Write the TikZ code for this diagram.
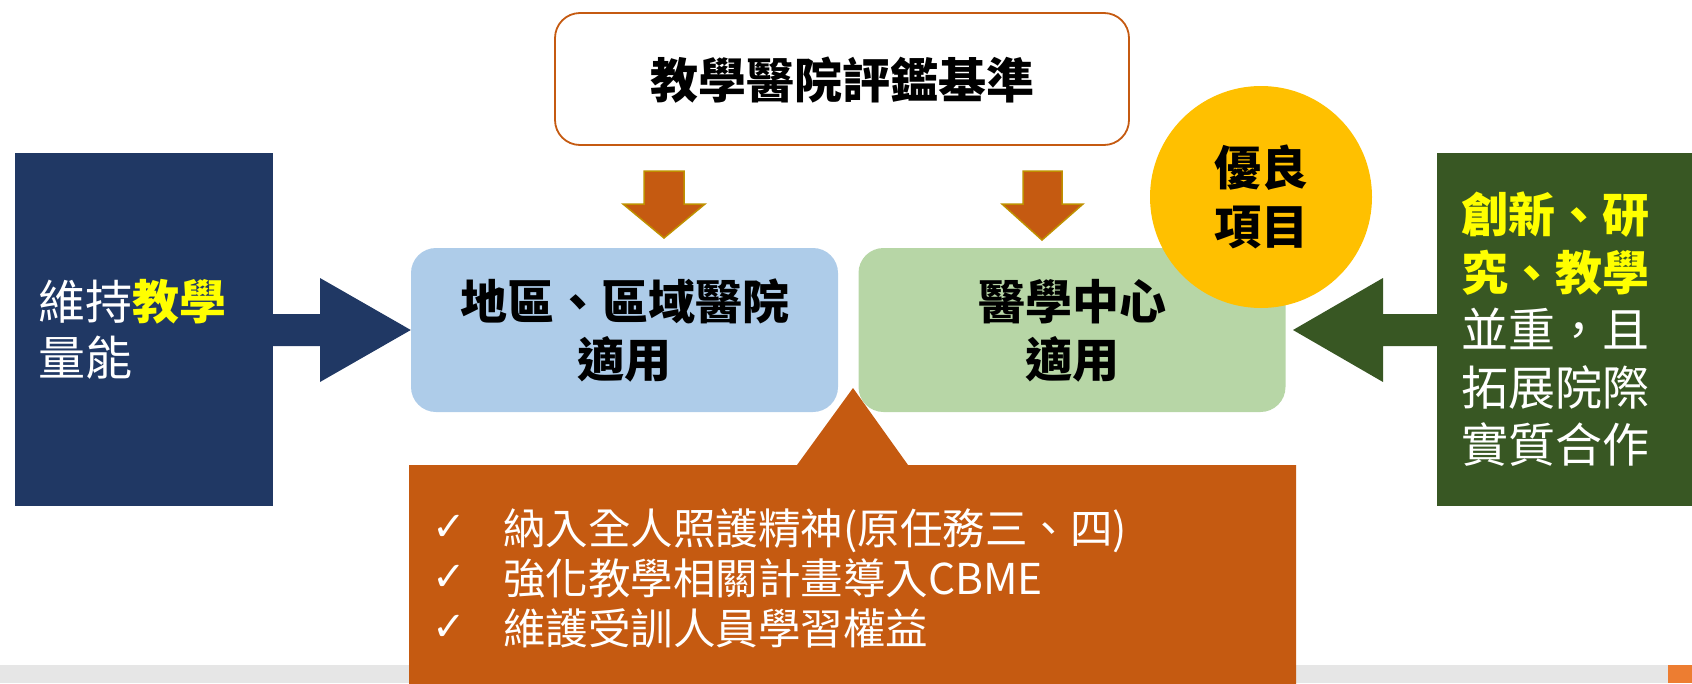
\documentclass[tikz,border=0pt]{standalone}
\usepackage{fontspec}
\newfontfamily\cjk{Noto Sans CJK TC}
\newfontfamily\dejavu{DejaVu Sans}
\definecolor{navy}{HTML}{203864}
\definecolor{forest}{HTML}{385723}
\definecolor{rust}{HTML}{C55A11}
\definecolor{lblue}{HTML}{AECCE9}
\definecolor{lgreen}{HTML}{B7D6A6}
\definecolor{gold}{HTML}{FFC000}
\definecolor{ylw}{HTML}{FFFF00}
\definecolor{olive}{HTML}{BF9000}
\definecolor{barg}{HTML}{E6E6E6}
\definecolor{acc}{HTML}{ED7D31}
\begin{document}
\begin{tikzpicture}[x=1pt,y=-1pt,
  f47/.style={inner sep=0pt, font=\cjk\fontsize{47}{56}\selectfont, text height=41.4pt, text depth=5.6pt},
  f47b/.style={inner sep=0pt, font=\cjk\bfseries\fontsize{47}{56}\selectfont, text height=41.4pt, text depth=5.6pt},
  f48b/.style={inner sep=0pt, font=\cjk\bfseries\fontsize{48}{56}\selectfont, text height=42.2pt, text depth=5.8pt},
  f42/.style={inner sep=0pt, font=\cjk\fontsize{42.5}{50}\selectfont, text height=37.4pt, text depth=5.1pt},
  chk/.style={font=\dejavu\fontsize{40}{48}\selectfont, text=white, inner sep=0pt},
  rbox/.style={minimum width=427pt, minimum height=164pt, rounded corners=25pt, inner sep=0pt},
  blockdown/.style={fill=rust, draw=olive, line width=1.5pt, line join=miter}
]
\useasboundingbox (0,0) rectangle (1692,683);
\clip (0,0) rectangle (1692,683);

% bottom bar
\fill[barg] (0,665) rectangle (1668,683);
\fill[acc] (1668,665) rectangle (1692,683);

% side boxes
\node[fill=navy, minimum width=258pt, minimum height=353pt, inner sep=0pt] (lbox) at (144,329.5) {};
\node[fill=forest, minimum width=270pt, minimum height=353pt, inner sep=0pt] (rbx) at (1572,329.5) {};

% central boxes
\node[rbox, fill=lblue] (blue) at (624.5,330) {};
\node[rbox, fill=lgreen] (green) at (1072,330) {};
\node[circle, fill=gold, minimum size=222pt, inner sep=0pt] (star) at (1261,197) {};

% side block arrows
\fill[navy] (lbox.east |- 0,314) -- (320,314) -- (320,278) -- (blue.west) -- (320,382) -- (320,346) -- (lbox.east |- 0,346) -- cycle;
\coordinate (rtip) at (1293,330);
\fill[forest] (rbx.west |- 0,314) -- (1383,314) -- (1383,278) -- (rtip) -- (1383,382) -- (1383,346) -- (rbx.west |- 0,346) -- cycle;

% bottom orange box with triangle
\coordinate (apex) at (853,388);
\fill[rust] (409,465) -- (797,465) -- (apex) -- (908,465) -- (1296,465) -- (1296,690) -- (409,690) -- cycle;

% top box
\node[draw=rust, line width=1.8pt, fill=white, rounded corners=25pt, minimum width=574pt, minimum height=132pt, inner sep=0pt] (top) at (842,79) {};

% down block arrows
\draw[blockdown] (644,171) -- (684,171) -- (684,204) -- (705,204) -- (664,238) -- (623,204) -- (644,204) -- cycle;
\draw[blockdown] (1023,171) -- (1062,171) -- (1062,204) -- (1083,204) -- (1042,240) -- (1002,204) -- (1023,204) -- cycle;

% texts
\node[f48b] (ttop) at (842,80) {教學醫院評鑑基準};

\node[f47, text=white, anchor=west] (l1) at (38,302) {維持{\bfseries\color{ylw}教學}};
\node[f47, text=white, anchor=west] (l2) at (38,358) {量能};

\node[f47b] (b1) at (624.5,302) {地區、區域醫院};
\node[f47b] (b2) at (624.5,360) {適用};
\node[f47b] (g1) at (1072,302) {醫學中心};
\node[f47b] (g2) at (1072,360) {適用};

\node[f47b] (s1) at (1261,168) {優良};
\node[f47b] (s2) at (1261,227) {項目};

\node[f47b, text=ylw, anchor=west] (r1) at (1461,215) {創新、研};
\node[f47b, text=ylw, anchor=west] (r2) at (1461,273) {究、教學};
\node[f47, text=white, anchor=west] (r3) at (1461,330) {並重，且};
\node[f47, text=white, anchor=west] (r4) at (1461,388) {拓展院際};
\node[f47, text=white, anchor=west] (r5) at (1461,445) {實質合作};

\node[chk, anchor=west] (c1) at (432,528) {✓};
\node[chk, anchor=west] (c2) at (432,578) {✓};
\node[chk, anchor=west] (c3) at (432,628) {✓};
\node[f42, text=white, anchor=west] (o1) at (503,528) {納入全人照護精神(原任務三、四)};
\node[f42, text=white, anchor=west] (o2) at (503,578) {強化教學相關計畫導入CBME};
\node[f42, text=white, anchor=west] (o3) at (503,628) {維護受訓人員學習權益};
\end{tikzpicture}
\end{document}
